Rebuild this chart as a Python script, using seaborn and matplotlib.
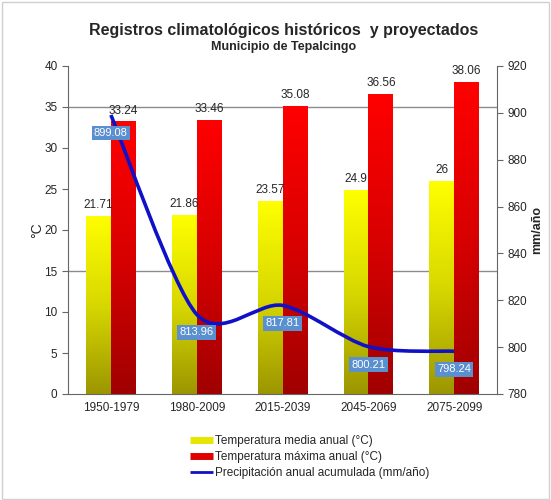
import numpy as np
import pandas as pd
import matplotlib.pyplot as plt
import seaborn as sns
from matplotlib.lines import Line2D
from matplotlib.path import Path
from matplotlib.patches import PathPatch, Rectangle
from matplotlib.colors import LinearSegmentedColormap

periods = ['1950-1979', '1980-2009', '2015-2039', '2045-2069', '2075-2099']
temp_media = [21.71, 21.86, 23.57, 24.9, 26]
temp_max = [33.24, 33.46, 35.08, 36.56, 38.06]
precip = [899.08, 813.96, 817.81, 800.21, 798.24]

lbl_media = 'Temperatura media anual (°C)'
lbl_max = 'Temperatura máxima anual (°C)'
lbl_precip = 'Precipitación anual acumulada (mm/año)'

sns.set_style('white')
plt.rcParams['font.family'] = ['Liberation Sans Narrow', 'Liberation Sans', 'DejaVu Sans']

df = pd.DataFrame({
    'periodo': periods * 2,
    'serie': [lbl_media] * 5 + [lbl_max] * 5,
    'valor': temp_media + temp_max,
})

fig = plt.figure(figsize=(5.51, 5.0), dpi=100)
ax = fig.add_axes([0.1234, 0.212, 0.779, 0.656])

sns.barplot(data=df, x='periodo', y='valor', hue='serie', order=periods,
            hue_order=[lbl_media, lbl_max], palette=['#ffff00', '#ff0000'],
            width=0.58, gap=0, ax=ax, legend=False, zorder=2)

# gradient fill for bars
cm_y = LinearSegmentedColormap.from_list('y', ['#9c9600', '#d8d800', '#ffff00'])
cm_r = LinearSegmentedColormap.from_list('r', ['#a00000', '#d80000', '#ff0000'])
grad = np.linspace(0, 1, 256).reshape(-1, 1)
bars = [p for p in ax.patches if isinstance(p, Rectangle)]
for i, p in enumerate(bars):
    x0, y0 = p.get_x(), p.get_y()
    w, h = p.get_width(), p.get_height()
    cmap = cm_y if i < 5 else cm_r
    im = ax.imshow(grad, extent=[x0, x0 + w, y0, y0 + h], origin='lower',
                   aspect='auto', cmap=cmap, zorder=2)
    im.set_clip_path(p)
    p.set_facecolor('none')
    p.set_edgecolor('none')
    ax.text(x0 + w / 2, y0 + h + 0.6, f'{(temp_media + temp_max)[i]:g}',
            ha='center', va='bottom', fontsize=8.5, zorder=4)

ax.set_xlim(-0.5, 4.5)
ax.set_ylim(0, 40)
ax.set_yticks(range(0, 41, 5))
for yv in (15, 35):
    ax.axhline(yv, color='#8c8c8c', lw=1, zorder=1)
ax.set_xlabel('')
ax.set_ylabel('°C', fontsize=10, labelpad=0)
ax.set_xticks(range(5))
ax.set_xticklabels(periods)
ax.set_xticks(np.arange(-0.5, 5, 1), minor=True)
ax.tick_params(axis='x', which='major', length=0, labelsize=8.5, pad=6)
ax.tick_params(axis='x', which='minor', length=4, color='#666666', direction='out')
ax.tick_params(axis='y', length=4, labelsize=8.5, color='#666666', direction='out', left=True)
for s in ('top', 'right'):
    ax.spines[s].set_visible(False)
for s in ('left', 'bottom'):
    ax.spines[s].set_color('#666666')

ax2 = ax.twinx()
ax2.set_ylim(780, 920)
ax2.set_yticks(range(780, 921, 20))
ax2.tick_params(axis='y', length=4, labelsize=8.5, color='#666666', direction='out', right=True)
ax2.set_ylabel('mm/año', fontsize=9, fontweight='bold', labelpad=3)
for s in ('top', 'left', 'bottom'):
    ax2.spines[s].set_visible(False)
ax2.spines['right'].set_color('#666666')

# smoothed precipitation line (Bezier through the points)
xs = np.arange(len(precip), dtype=float)
ys = np.array(precip, dtype=float)
verts = [(xs[0], ys[0])]
codes = [Path.MOVETO]
t = 1 / 7
for i in range(len(xs) - 1):
    p0 = (xs[max(i - 1, 0)], ys[max(i - 1, 0)])
    p1 = (xs[i], ys[i])
    p2 = (xs[i + 1], ys[i + 1])
    p3 = (xs[min(i + 2, len(xs) - 1)], ys[min(i + 2, len(xs) - 1)])
    c1 = (p1[0] + (p2[0] - p0[0]) * t, p1[1] + (p2[1] - p0[1]) * t)
    c2 = (p2[0] - (p3[0] - p1[0]) * t, p2[1] - (p3[1] - p1[1]) * t)
    verts += [c1, c2, p2]
    codes += [Path.CURVE4] * 3
ax2.add_patch(PathPatch(Path(verts, codes), facecolor='none',
                        edgecolor='#1010c8', lw=2.6, zorder=3))

for xv, yv in zip(xs, ys):
    ax2.annotate(f'{yv:.2f}', (xv, yv), xytext=(0, -13), textcoords='offset points',
                 ha='center', va='center', fontsize=8, color='white', zorder=5,
                 bbox=dict(boxstyle='square,pad=0.2', fc='#5a8fd0', ec='none'))

fig.text(0.514, 0.94, 'Registros climatológicos históricos  y proyectados',
         ha='center', va='center', fontsize=11.5, fontweight='bold',
         family=['Liberation Sans', 'DejaVu Sans'])
fig.text(0.514, 0.906, 'Municipio de Tepalcingo', ha='center', va='center',
         fontsize=9, fontweight='bold', family=['Liberation Sans', 'DejaVu Sans'])

handles = [Line2D([0], [0], color='#e6e600', lw=5, solid_capstyle='butt'),
           Line2D([0], [0], color='#e00000', lw=5, solid_capstyle='butt'),
           Line2D([0], [0], color='#1010c8', lw=2, solid_capstyle='butt')]
fig.legend(handles, [lbl_media, lbl_max, lbl_precip], loc='upper left',
           bbox_to_anchor=(0.345, 0.13), frameon=False, fontsize=8.5,
           handlelength=1.9, handletextpad=0.2, labelspacing=0.35,
           borderaxespad=0, borderpad=0)

fig.add_artist(Rectangle((0.003, 0.003), 0.994, 0.994, transform=fig.transFigure,
                         fill=False, ec='#d0d0d0', lw=1))

fig.savefig('out.png', dpi=100)
